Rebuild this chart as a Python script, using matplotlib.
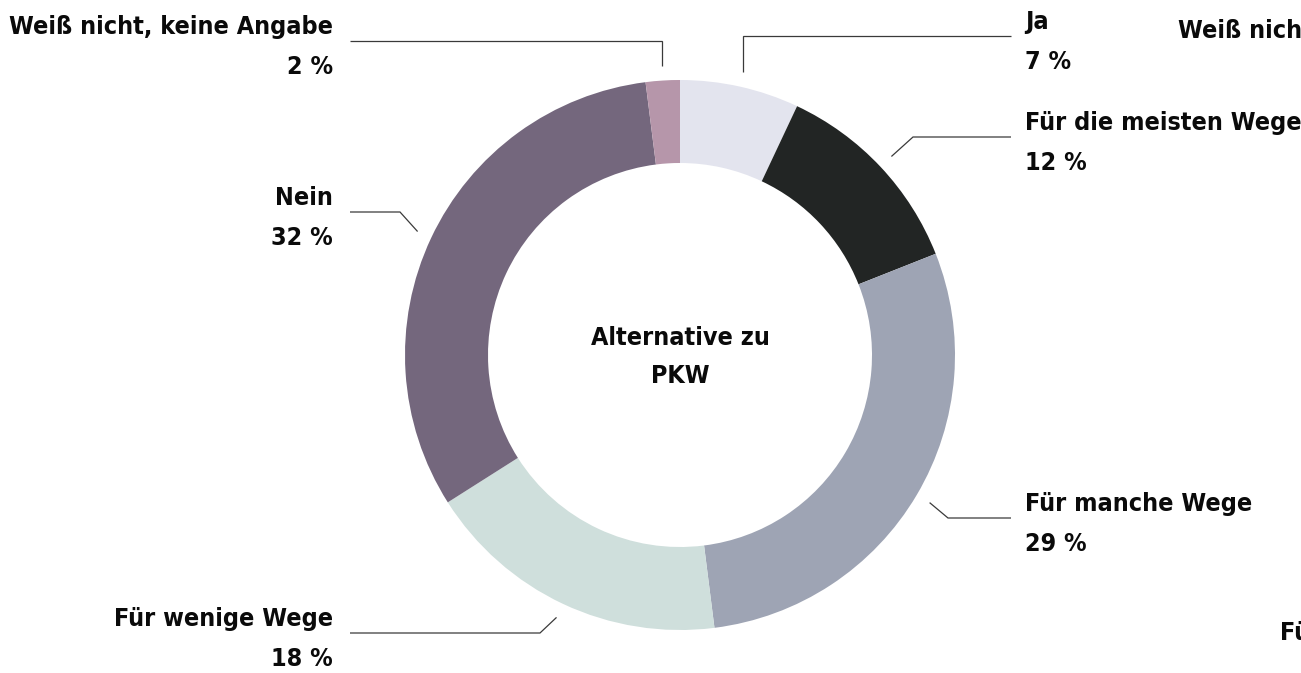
import matplotlib
matplotlib.use("Agg")
import matplotlib.pyplot as plt
from matplotlib import font_manager as fm
import numpy as np

# ---- data ----
categories = ["Ja", "Für die meisten Wege", "Für manche Wege",
              "Für wenige Wege", "Nein", "Weiß nicht, keine Angabe"]
values = [7, 12, 29, 18, 32, 2]
value_labels = ["7 %", "12 %", "29 %", "18 %", "32 %", "2 %"]
center_title = "Alternative zu\nPKW"
colors = ["#e3e4ee", "#222524", "#9ea4b4", "#cfdfdc", "#74677d", "#b696aa"]

# ---- font selection (condensed bold if available) ----
names = {f.name for f in fm.fontManager.ttflist}
font_kw = dict(family="Liberation Sans", weight="bold")
fsize = 18
if "Liberation Sans Narrow" in names:
    font_kw = dict(family="Liberation Sans Narrow", weight="bold")
    fsize = 20
else:
    cond = [f for f in fm.fontManager.ttflist
            if f.name == "DejaVu Sans" and "ondensed" in f.fname and "Bold" in f.fname]
    if cond:
        font_kw = dict(family="DejaVu Sans", weight="bold", stretch="condensed")
        fsize = 18

W, H = 1301, 673
fig = plt.figure(figsize=(W / 100, H / 100), dpi=100)
ax = fig.add_axes([0, 0, 1, 1])

cx, cy = 680, 355
R_out, ring = 275, 83

def Y(y):
    return H - y

ax.pie(values, colors=colors, startangle=90, counterclock=False,
       radius=R_out, center=(cx, Y(cy)),
       wedgeprops=dict(width=ring, edgecolor="none", linewidth=0))

# ---- labels layout: (side, line_y, elbow_x or None) ----
layout = [
    ("right", 36, None),
    ("right", 137, 913),
    ("right", 518, 948),
    ("left", 633, 540),
    ("left", 212, 400),
    ("left", 41, None),
]
right_text_x, left_text_x = 1025, 333
right_end_x, left_end_x = 1011, 350
r_anchor = 290

total = float(sum(values))
cum = np.cumsum([0] + values[:-1])
for i, (cat, v) in enumerate(zip(categories, values)):
    side, ly, ex = layout[i]
    mid = (cum[i] + v / 2) / total * 2 * np.pi  # clockwise from top
    ax_x = cx + r_anchor * np.sin(mid)
    ax_y = cy - r_anchor * np.cos(mid)
    if ex is None:
        ex = ax_x
    end_x = right_end_x if side == "right" else left_end_x
    xs = [ax_x, ex, end_x]
    ys = [ax_y, ly, ly]
    ax.plot(xs, [Y(y) for y in ys], color="#3a3a3a", lw=0.9,
            solid_capstyle="butt", solid_joinstyle="miter")
    tx = right_text_x if side == "right" else left_text_x
    ha = "left" if side == "right" else "right"
    ax.text(tx, Y(ly - 7), cat, ha=ha, va="baseline", fontsize=fsize,
            color="#0a0a0a", **font_kw)
    ax.text(tx, Y(ly + 33), value_labels[i], ha=ha, va="baseline",
            fontsize=fsize, color="#0a0a0a", **font_kw)

# center title
t1, t2 = center_title.split("\n")
ax.text(cx, Y(345), t1, ha="center", va="baseline", fontsize=fsize,
        color="#0a0a0a", **font_kw)
ax.text(cx, Y(383), t2, ha="center", va="baseline", fontsize=fsize,
        color="#0a0a0a", **font_kw)

# clipped neighbouring chart labels at the right edge
ax.text(1178, Y(38), "Weiß nicht, keine Angabe", ha="left", va="baseline",
        fontsize=fsize, color="#0a0a0a", clip_on=True, **font_kw)
ax.text(1280, Y(640), "Für wenige Wege", ha="left", va="baseline",
        fontsize=fsize, color="#0a0a0a", clip_on=True, **font_kw)

ax.set_xlim(0, W)
ax.set_ylim(0, H)
ax.set_aspect("equal")
ax.axis("off")
fig.savefig("out.png", dpi=100, facecolor="white")
